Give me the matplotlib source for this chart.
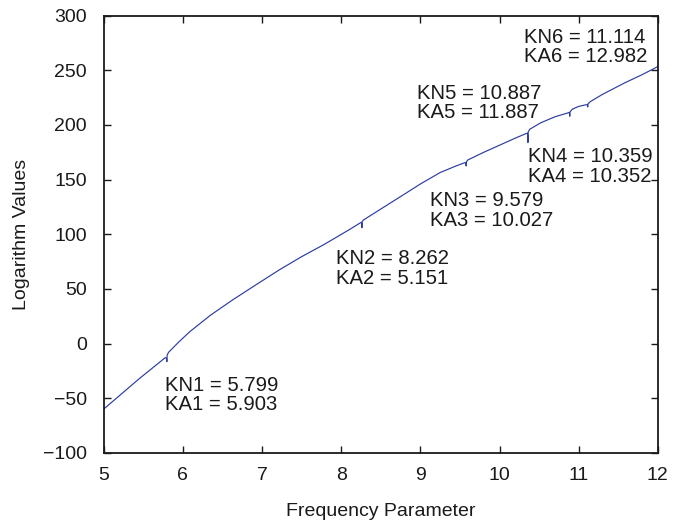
import matplotlib
matplotlib.use("Agg")
import matplotlib.pyplot as plt

# curve (frequency parameter vs log value)
freq = [5.00, 5.46, 5.70, 5.78, 5.795, 5.799, 5.803, 5.82, 5.95, 6.09, 6.35, 6.63,
        6.95, 7.22, 7.50, 7.78, 7.98, 8.12, 8.22, 8.255, 8.260, 8.262, 8.265, 8.28,
        8.40, 8.75, 9.00, 9.25, 9.45, 9.56, 9.575, 9.579, 9.584, 9.60, 9.80, 10.00,
        10.20, 10.33, 10.352, 10.357, 10.359, 10.362, 10.38, 10.52, 10.70, 10.86,
        10.880, 10.884, 10.887, 10.891, 10.92, 11.00, 11.09, 11.110, 11.114, 11.118,
        11.15, 11.30, 11.58, 11.80, 12.00]
logval = [-60, -31.5, -17.5, -12.8, -13.5, -16.5, -10.5, -8, 1.5, 11, 26, 40,
          55, 67.5, 79.5, 90.5, 99, 105, 109.5, 111, 110, 106, 111.5, 113,
          118.5, 134.5, 146, 156.5, 162.5, 165.5, 165.5, 162.5, 166.5, 168, 175, 181.5,
          188, 192, 192.5, 190, 184, 193.5, 196, 202, 207.5, 211,
          211.5, 210.5, 208, 212, 214.5, 217, 218.5, 218.5, 216.5, 219.5,
          221.5, 228, 238.5, 246, 253.5]

# annotations: (text, x, y of line centre)
notes = [
    ("KN1 = 5.799", 5.78, -38), ("KA1 = 5.903", 5.78, -56),
    ("KN2 = 8.262", 7.93, 78), ("KA2 = 5.151", 7.93, 60),
    ("KN3 = 9.579", 9.12, 131), ("KA3 = 10.027", 9.12, 113),
    ("KN4 = 10.359", 10.36, 171), ("KA4 = 10.352", 10.36, 152.5),
    ("KN5 = 10.887", 8.96, 229), ("KA5 = 11.887", 8.96, 211),
    ("KN6 = 11.114", 10.31, 280.5), ("KA6 = 12.982", 10.31, 262.5),
]

plt.rcParams['font.family'] = ['Liberation Sans', 'DejaVu Sans']

fig = plt.figure(figsize=(6.86, 5.23), dpi=100)
ax = fig.add_axes([0.151, 0.134, 0.808, 0.836])

ax.plot(freq, logval, color="#2b3da3", linewidth=0.85)

for txt, x, y in notes:
    ax.text(x, y, txt, fontsize=14.6, ha="left", va="center", color="#1a1a1a")

ax.set_xlim(5, 12)
ax.set_ylim(-100, 300)
ax.set_xticks(range(5, 13))
ax.set_yticks(range(-100, 301, 50))
ax.set_yticklabels([str(v).replace("-", "\u2212") for v in range(-100, 301, 50)])

ax.tick_params(direction="in", top=True, right=True, length=5, width=1,
               labelsize=14, colors="#1a1a1a")
ax.tick_params(axis="y", pad=12)
ax.tick_params(axis="x", pad=10)
for s in ax.spines.values():
    s.set_linewidth(1.3)
    s.set_color("#1a1a1a")

ax.set_xlabel("Frequency Parameter", fontsize=14, color="#1a1a1a", labelpad=14)
ax.set_ylabel("Logarithm Values", fontsize=14, color="#1a1a1a", labelpad=9)

fig.savefig("out.png", dpi=100)
